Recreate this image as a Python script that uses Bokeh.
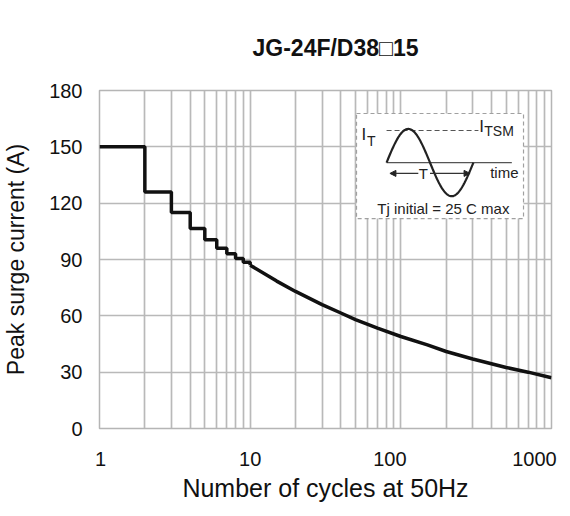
import numpy as np
from bokeh.plotting import figure
from bokeh.models import (Range1d, FixedTicker, LinearAxis, LinearScale, CustomJSTickFormatter,
                          Arrow, NormalHead)
from bokeh.core.properties import value
from bokeh.embed import file_html
from bokeh.resources import INLINE

# ---------------- data ----------------
title_text = "JG-24F/D38\u25a115"
x_label = "Number of cycles at 50Hz"
y_label = "Peak surge current (A)"

step_cycles = [1, 2, 3, 4, 5, 6, 7, 8, 9, 10]
step_current = [150, 126, 115, 106.5, 100.5, 96, 93, 90.5, 88.5, 87]

curve_cycles = [10, 15, 20, 30, 40, 50, 70, 100, 150, 200, 300, 500, 700, 1000]
curve_current = [87, 78.5, 73, 66, 61.5, 58, 53.5, 49, 44.5, 41, 37, 32.5, 30, 27]

x_ticks = [1, 10, 100, 1000]
x_tick_labels = ["1", "10", "100", "1000"]
x_minor_ticks = [2, 3, 4, 5, 6, 7, 8, 9, 20, 30, 40, 50, 60, 70, 80, 90,
                 200, 300, 400, 500, 600, 700, 800, 900]
y_ticks = [0, 30, 60, 90, 120, 150, 180]
y_tick_labels = ["0", "30", "60", "90", "120", "150", "180"]

inset_note = "Tj initial = 25 C max"

# ---------------- style ----------------
FONT = "Liberation Sans"
GRID = "#b9b9b9"
INK = "#111111"
FRAME_W, FRAME_H = 452, 338
DEC_PX = FRAME_W / 3.0
x_label_shift = [1, 0, -11, -17]   # screen px nudges of the x tick labels

p = figure(x_axis_type="log", x_range=Range1d(1, 1000), y_range=Range1d(0, 180),
           frame_width=FRAME_W, frame_height=FRAME_H,
           min_border_left=93, min_border_right=9, min_border_top=90, min_border_bottom=72,
           output_backend="svg", toolbar_location=None, title=title_text)

p.title.text_font = FONT
p.title.text_font_size = "23px"
p.title.text_font_style = "bold"
p.title.text_color = INK
p.title.align = "left"
p.title.offset = 153
p.title.standoff = 60

p.outline_line_color = "#b5b5b5"
p.outline_line_width = 1.5

# grids
p.xgrid.ticker = FixedTicker(ticks=x_ticks, minor_ticks=x_minor_ticks)
p.ygrid.ticker = FixedTicker(ticks=y_ticks)
p.xgrid.grid_line_color = GRID
p.xgrid.grid_line_width = 1.7
p.xgrid.minor_grid_line_color = GRID
p.xgrid.minor_grid_line_width = 1.7
p.ygrid.grid_line_color = GRID
p.ygrid.grid_line_width = 1.7

# the log axis itself is hidden; its labels come from an axis measured in decades
p.xaxis[0].visible = False
p.extra_x_ranges = {"decades": Range1d(0, 3)}
p.extra_x_scales = {"decades": LinearScale()}
label_pos = [float(np.log10(t)) + dx / DEC_PX for t, dx in zip(x_ticks, x_label_shift)]
xax = LinearAxis(x_range_name="decades", ticker=FixedTicker(ticks=label_pos),
                 formatter=CustomJSTickFormatter(args=dict(labels=x_tick_labels),
                                                 code="return labels[index];"))
p.add_layout(xax, "below")

yax = p.yaxis[0]
for ax in (xax, yax):
    ax.axis_line_color = None
    ax.major_tick_in = 0
    ax.major_tick_out = 0
    ax.minor_tick_in = 0
    ax.minor_tick_out = 0
    ax.major_label_text_font = FONT
    ax.major_label_text_font_size = "20px"
    ax.major_label_text_color = INK
    ax.axis_label_text_font = FONT
    ax.axis_label_text_font_style = "normal"
    ax.axis_label_text_color = INK

yax.ticker = FixedTicker(ticks=y_ticks)
yax.major_label_overrides = {t: s for t, s in zip(y_ticks, y_tick_labels)}
yax.major_label_standoff = 17
yax.axis_label = y_label
yax.axis_label_text_font_size = "23px"
yax.axis_label_standoff = 17

xax.major_label_standoff = 23
xax.axis_label = x_label
xax.axis_label_text_font_size = "25px"
xax.axis_label_standoff = 5

# ---------------- curve ----------------
p.step(step_cycles, step_current, mode="after", line_color=INK, line_width=3.5)
p.line(curve_cycles, curve_current, line_color=INK, line_width=3.5)

# ---------------- inset (schematic drawn in box fractions) ----------------
FX0, FW, FY0, FH = 0.5686, 0.3695, 0.621, 0.311

def ix(u):
    return 10 ** (3 * (FX0 + np.asarray(u, dtype=float) * FW))

def iy(v):
    return 180 * (FY0 + np.asarray(v, dtype=float) * FH)

p.quad(left=[ix(0)], right=[ix(1)], bottom=[iy(0)], top=[iy(1)],
       fill_color="white", line_color="#a0a0a0", line_width=1.2, line_dash="4 3")

# time axis and I_TSM level
p.line(ix([0.18, 0.93]), iy([0.533, 0.533]), line_color="#555555", line_width=1.3)
p.line(ix([0.18, 0.73]), iy([0.838, 0.838]), line_color="#555555", line_width=1.1, line_dash="5 3")

uu = np.linspace(0.18, 0.70, 120)
vv = 0.533 + 0.32 * np.sin(2 * np.pi * (uu - 0.18) / 0.52)
p.line(ix(uu), iy(vv), line_color="#222222", line_width=2.2)

# period arrows
head = dict(size=6, fill_color="#222222", line_color="#222222")
p.add_layout(Arrow(end=NormalHead(**head), x_start=float(ix(0.37)), y_start=float(iy(0.43)),
                   x_end=float(ix(0.20)), y_end=float(iy(0.43)), line_color="#333333", line_width=1.2))
p.add_layout(Arrow(end=NormalHead(**head), x_start=float(ix(0.44)), y_start=float(iy(0.43)),
                   x_end=float(ix(0.68)), y_end=float(iy(0.43)), line_color="#333333", line_width=1.2))

txt = dict(text_font=value(FONT), text_color="#222222", text_baseline="middle")
p.text(x=[float(ix(0.40))], y=[float(iy(0.43))], text=["T"], text_font_size="15px", text_align="center", **txt)
p.text(x=[float(ix(0.03))], y=[float(iy(0.80))], text=["I"], text_font_size="17px", text_align="left", **txt)
p.text(x=[float(ix(0.063))], y=[float(iy(0.74))], text=["T"], text_font_size="14px", text_align="left", **txt)
p.text(x=[float(ix(0.735))], y=[float(iy(0.88))], text=["I"], text_font_size="17px", text_align="left", **txt)
p.text(x=[float(ix(0.765))], y=[float(iy(0.83))], text=["TSM"], text_font_size="14px", text_align="left", **txt)
p.text(x=[float(ix(0.885))], y=[float(iy(0.44))], text=["time"], text_font_size="15px", text_align="center", **txt)
p.text(x=[float(ix(0.52))], y=[float(iy(0.10))], text=[inset_note], text_font_size="15px", text_align="center", **txt)

open("out.html", "w").write(file_html(p, INLINE))
